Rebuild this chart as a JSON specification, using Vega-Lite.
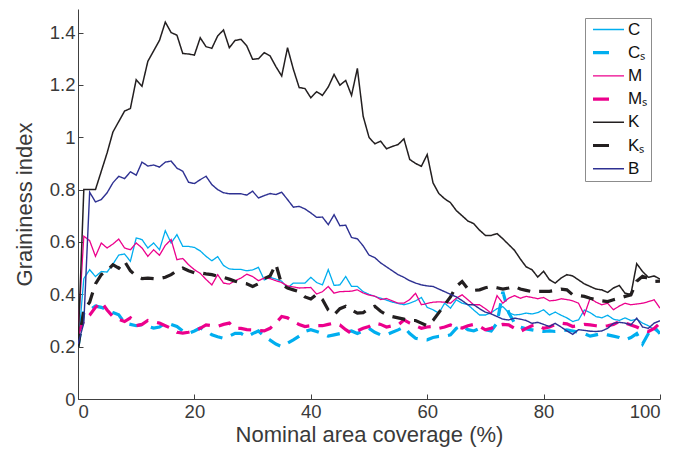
{
  "$schema": "https://vega.github.io/schema/vega-lite/v6.json",
  "width": 582,
  "height": 390,
  "autosize": {"type": "none"},
  "padding": {"left": 78, "top": 9, "right": 30, "bottom": 51},
  "background": "white",
  "config": {
    "view": {"stroke": null},
    "font": "Liberation Sans"
  },
  "data": {"values": [
    {"x":0,"C":0.20,"Cs":0.20,"M":0.25,"Ms":0.25,"K":0.20,"Ks":0.20,"B":0.21},
    {"x":1,"C":0.46,"Cs":0.33,"M":0.622,"Ms":0.30,"K":0.80,"Ks":0.34,"B":0.29},
    {"x":2,"C":0.494,"Cs":0.34,"M":0.605,"Ms":0.32,"K":0.80,"Ks":0.37,"B":0.79},
    {"x":3,"C":0.468,"Cs":0.355,"M":0.545,"Ms":0.35,"K":0.80,"Ks":0.44,"B":0.753},
    {"x":4,"C":0.487,"Cs":0.35,"M":0.596,"Ms":0.37,"K":0.87,"Ks":0.475,"B":0.762},
    {"x":5,"C":0.485,"Cs":0.34,"M":0.577,"Ms":0.34,"K":0.94,"Ks":0.49,"B":0.788},
    {"x":6,"C":0.515,"Cs":0.33,"M":0.592,"Ms":0.315,"K":1.02,"Ks":0.513,"B":0.826},
    {"x":7,"C":0.55,"Cs":0.322,"M":0.611,"Ms":0.305,"K":1.06,"Ks":0.50,"B":0.851},
    {"x":8,"C":0.554,"Cs":0.29,"M":0.577,"Ms":0.296,"K":1.10,"Ks":0.526,"B":0.842},
    {"x":9,"C":0.526,"Cs":0.285,"M":0.57,"Ms":0.31,"K":1.11,"Ks":0.49,"B":0.868},
    {"x":10,"C":0.615,"Cs":0.28,"M":0.596,"Ms":0.28,"K":1.22,"Ks":0.47,"B":0.855},
    {"x":11,"C":0.609,"Cs":0.284,"M":0.577,"Ms":0.285,"K":1.195,"Ks":0.46,"B":0.905},
    {"x":12,"C":0.577,"Cs":0.278,"M":0.545,"Ms":0.30,"K":1.29,"Ks":0.462,"B":0.89},
    {"x":13,"C":0.596,"Cs":0.271,"M":0.57,"Ms":0.295,"K":1.33,"Ks":0.46,"B":0.894},
    {"x":14,"C":0.57,"Cs":0.275,"M":0.549,"Ms":0.29,"K":1.37,"Ks":0.46,"B":0.886},
    {"x":15,"C":0.643,"Cs":0.29,"M":0.587,"Ms":0.28,"K":1.44,"Ks":0.465,"B":0.905},
    {"x":16,"C":0.596,"Cs":0.285,"M":0.609,"Ms":0.27,"K":1.40,"Ks":0.475,"B":0.909},
    {"x":17,"C":0.628,"Cs":0.277,"M":0.532,"Ms":0.255,"K":1.39,"Ks":0.49,"B":0.882},
    {"x":18,"C":0.583,"Cs":0.26,"M":0.537,"Ms":0.252,"K":1.32,"Ks":0.50,"B":0.87},
    {"x":19,"C":0.583,"Cs":0.251,"M":0.513,"Ms":0.255,"K":1.318,"Ks":0.49,"B":0.828},
    {"x":20,"C":0.579,"Cs":0.26,"M":0.494,"Ms":0.26,"K":1.314,"Ks":0.482,"B":0.823},
    {"x":21,"C":0.566,"Cs":0.271,"M":0.48,"Ms":0.27,"K":1.38,"Ks":0.482,"B":0.838},
    {"x":22,"C":0.545,"Cs":0.26,"M":0.457,"Ms":0.283,"K":1.346,"Ks":0.478,"B":0.851},
    {"x":23,"C":0.528,"Cs":0.245,"M":0.436,"Ms":0.28,"K":1.34,"Ks":0.475,"B":0.819},
    {"x":24,"C":0.544,"Cs":0.238,"M":0.475,"Ms":0.277,"K":1.387,"Ks":0.469,"B":0.80},
    {"x":25,"C":0.51,"Cs":0.232,"M":0.443,"Ms":0.285,"K":1.41,"Ks":0.465,"B":0.788},
    {"x":26,"C":0.497,"Cs":0.24,"M":0.439,"Ms":0.29,"K":1.342,"Ks":0.458,"B":0.784},
    {"x":27,"C":0.495,"Cs":0.251,"M":0.452,"Ms":0.27,"K":1.37,"Ks":0.45,"B":0.784},
    {"x":28,"C":0.495,"Cs":0.251,"M":0.462,"Ms":0.27,"K":1.374,"Ks":0.443,"B":0.784},
    {"x":29,"C":0.49,"Cs":0.238,"M":0.477,"Ms":0.265,"K":1.349,"Ks":0.44,"B":0.779},
    {"x":30,"C":0.493,"Cs":0.25,"M":0.468,"Ms":0.264,"K":1.298,"Ks":0.43,"B":0.794},
    {"x":31,"C":0.503,"Cs":0.26,"M":0.452,"Ms":0.262,"K":1.30,"Ks":0.44,"B":0.768},
    {"x":32,"C":0.455,"Cs":0.24,"M":0.462,"Ms":0.26,"K":1.323,"Ks":0.46,"B":0.777},
    {"x":33,"C":0.465,"Cs":0.225,"M":0.46,"Ms":0.27,"K":1.311,"Ks":0.47,"B":0.785},
    {"x":34,"C":0.458,"Cs":0.21,"M":0.452,"Ms":0.29,"K":1.27,"Ks":0.515,"B":0.781},
    {"x":35,"C":0.45,"Cs":0.20,"M":0.445,"Ms":0.315,"K":1.234,"Ks":0.437,"B":0.79},
    {"x":36,"C":0.424,"Cs":0.213,"M":0.432,"Ms":0.31,"K":1.342,"Ks":0.424,"B":0.762},
    {"x":37,"C":0.443,"Cs":0.226,"M":0.428,"Ms":0.296,"K":1.26,"Ks":0.417,"B":0.733},
    {"x":38,"C":0.443,"Cs":0.24,"M":0.424,"Ms":0.285,"K":1.19,"Ks":0.41,"B":0.736},
    {"x":39,"C":0.443,"Cs":0.258,"M":0.425,"Ms":0.277,"K":1.186,"Ks":0.39,"B":0.726},
    {"x":40,"C":0.465,"Cs":0.265,"M":0.426,"Ms":0.28,"K":1.151,"Ks":0.382,"B":0.711},
    {"x":41,"C":0.445,"Cs":0.258,"M":0.401,"Ms":0.28,"K":1.174,"Ks":0.40,"B":0.694},
    {"x":42,"C":0.436,"Cs":0.25,"M":0.41,"Ms":0.28,"K":1.16,"Ks":0.38,"B":0.695},
    {"x":43,"C":0.494,"Cs":0.24,"M":0.43,"Ms":0.285,"K":1.192,"Ks":0.34,"B":0.666},
    {"x":44,"C":0.434,"Cs":0.245,"M":0.404,"Ms":0.29,"K":1.24,"Ks":0.322,"B":0.704},
    {"x":45,"C":0.436,"Cs":0.25,"M":0.41,"Ms":0.283,"K":1.199,"Ks":0.345,"B":0.662},
    {"x":46,"C":0.468,"Cs":0.255,"M":0.411,"Ms":0.265,"K":1.217,"Ks":0.354,"B":0.664},
    {"x":47,"C":0.43,"Cs":0.26,"M":0.412,"Ms":0.25,"K":1.16,"Ks":0.34,"B":0.617},
    {"x":48,"C":0.43,"Cs":0.25,"M":0.417,"Ms":0.26,"K":1.263,"Ks":0.328,"B":0.612},
    {"x":49,"C":0.41,"Cs":0.26,"M":0.405,"Ms":0.27,"K":1.08,"Ks":0.33,"B":0.585},
    {"x":50,"C":0.40,"Cs":0.27,"M":0.397,"Ms":0.277,"K":1.00,"Ks":0.345,"B":0.55},
    {"x":51,"C":0.392,"Cs":0.255,"M":0.393,"Ms":0.29,"K":0.975,"Ks":0.354,"B":0.54},
    {"x":52,"C":0.385,"Cs":0.245,"M":0.38,"Ms":0.285,"K":0.985,"Ks":0.335,"B":0.52},
    {"x":53,"C":0.378,"Cs":0.245,"M":0.384,"Ms":0.275,"K":0.956,"Ks":0.322,"B":0.505},
    {"x":54,"C":0.37,"Cs":0.255,"M":0.375,"Ms":0.28,"K":0.965,"Ks":0.315,"B":0.49},
    {"x":55,"C":0.365,"Cs":0.264,"M":0.366,"Ms":0.283,"K":0.972,"Ks":0.31,"B":0.475},
    {"x":56,"C":0.36,"Cs":0.275,"M":0.366,"Ms":0.302,"K":0.994,"Ks":0.305,"B":0.465},
    {"x":57,"C":0.366,"Cs":0.25,"M":0.38,"Ms":0.29,"K":0.915,"Ks":0.30,"B":0.452},
    {"x":58,"C":0.375,"Cs":0.232,"M":0.404,"Ms":0.28,"K":0.90,"Ks":0.30,"B":0.443},
    {"x":59,"C":0.388,"Cs":0.228,"M":0.36,"Ms":0.27,"K":0.889,"Ks":0.29,"B":0.436},
    {"x":60,"C":0.35,"Cs":0.226,"M":0.365,"Ms":0.275,"K":0.934,"Ks":0.28,"B":0.432},
    {"x":61,"C":0.341,"Cs":0.235,"M":0.37,"Ms":0.277,"K":0.826,"Ks":0.30,"B":0.43},
    {"x":62,"C":0.328,"Cs":0.239,"M":0.371,"Ms":0.27,"K":0.785,"Ks":0.33,"B":0.42},
    {"x":63,"C":0.366,"Cs":0.24,"M":0.37,"Ms":0.275,"K":0.765,"Ks":0.36,"B":0.41},
    {"x":64,"C":0.347,"Cs":0.245,"M":0.366,"Ms":0.283,"K":0.75,"Ks":0.39,"B":0.40},
    {"x":65,"C":0.379,"Cs":0.27,"M":0.385,"Ms":0.275,"K":0.72,"Ks":0.43,"B":0.39},
    {"x":66,"C":0.366,"Cs":0.28,"M":0.398,"Ms":0.271,"K":0.70,"Ks":0.449,"B":0.376},
    {"x":67,"C":0.36,"Cs":0.265,"M":0.379,"Ms":0.28,"K":0.68,"Ks":0.42,"B":0.36},
    {"x":68,"C":0.34,"Cs":0.26,"M":0.36,"Ms":0.285,"K":0.67,"Ks":0.415,"B":0.36},
    {"x":69,"C":0.321,"Cs":0.27,"M":0.36,"Ms":0.277,"K":0.645,"Ks":0.417,"B":0.345},
    {"x":70,"C":0.321,"Cs":0.265,"M":0.345,"Ms":0.264,"K":0.625,"Ks":0.425,"B":0.332},
    {"x":71,"C":0.33,"Cs":0.26,"M":0.328,"Ms":0.27,"K":0.625,"Ks":0.43,"B":0.325},
    {"x":72,"C":0.345,"Cs":0.29,"M":0.395,"Ms":0.28,"K":0.632,"Ks":0.425,"B":0.315},
    {"x":73,"C":0.353,"Cs":0.41,"M":0.366,"Ms":0.285,"K":0.612,"Ks":0.42,"B":0.305},
    {"x":74,"C":0.33,"Cs":0.33,"M":0.385,"Ms":0.283,"K":0.59,"Ks":0.424,"B":0.302},
    {"x":75,"C":0.321,"Cs":0.29,"M":0.395,"Ms":0.27,"K":0.568,"Ks":0.43,"B":0.309},
    {"x":76,"C":0.323,"Cs":0.275,"M":0.385,"Ms":0.258,"K":0.535,"Ks":0.42,"B":0.305},
    {"x":77,"C":0.328,"Cs":0.268,"M":0.392,"Ms":0.27,"K":0.505,"Ks":0.415,"B":0.30},
    {"x":78,"C":0.325,"Cs":0.264,"M":0.388,"Ms":0.28,"K":0.494,"Ks":0.41,"B":0.289},
    {"x":79,"C":0.33,"Cs":0.26,"M":0.383,"Ms":0.283,"K":0.466,"Ks":0.411,"B":0.293},
    {"x":80,"C":0.341,"Cs":0.258,"M":0.388,"Ms":0.27,"K":0.488,"Ks":0.411,"B":0.285},
    {"x":81,"C":0.321,"Cs":0.26,"M":0.375,"Ms":0.275,"K":0.456,"Ks":0.411,"B":0.277},
    {"x":82,"C":0.332,"Cs":0.258,"M":0.377,"Ms":0.285,"K":0.443,"Ks":0.415,"B":0.289},
    {"x":83,"C":0.32,"Cs":0.26,"M":0.383,"Ms":0.29,"K":0.462,"Ks":0.42,"B":0.275},
    {"x":84,"C":0.31,"Cs":0.264,"M":0.38,"Ms":0.287,"K":0.475,"Ks":0.417,"B":0.26},
    {"x":85,"C":0.296,"Cs":0.26,"M":0.375,"Ms":0.277,"K":0.47,"Ks":0.398,"B":0.247},
    {"x":86,"C":0.302,"Cs":0.255,"M":0.366,"Ms":0.28,"K":0.455,"Ks":0.395,"B":0.265},
    {"x":87,"C":0.34,"Cs":0.25,"M":0.321,"Ms":0.285,"K":0.44,"Ks":0.392,"B":0.262},
    {"x":88,"C":0.33,"Cs":0.24,"M":0.385,"Ms":0.283,"K":0.43,"Ks":0.385,"B":0.259},
    {"x":89,"C":0.315,"Cs":0.245,"M":0.37,"Ms":0.28,"K":0.42,"Ks":0.379,"B":0.258},
    {"x":90,"C":0.31,"Cs":0.25,"M":0.36,"Ms":0.277,"K":0.417,"Ks":0.375,"B":0.26},
    {"x":91,"C":0.32,"Cs":0.245,"M":0.366,"Ms":0.28,"K":0.407,"Ks":0.372,"B":0.27},
    {"x":92,"C":0.305,"Cs":0.24,"M":0.341,"Ms":0.285,"K":0.424,"Ks":0.379,"B":0.289},
    {"x":93,"C":0.30,"Cs":0.235,"M":0.355,"Ms":0.296,"K":0.434,"Ks":0.385,"B":0.293},
    {"x":94,"C":0.31,"Cs":0.226,"M":0.366,"Ms":0.29,"K":0.404,"Ks":0.392,"B":0.29},
    {"x":95,"C":0.30,"Cs":0.235,"M":0.36,"Ms":0.283,"K":0.40,"Ks":0.398,"B":0.283},
    {"x":96,"C":0.305,"Cs":0.25,"M":0.363,"Ms":0.275,"K":0.517,"Ks":0.45,"B":0.309},
    {"x":97,"C":0.29,"Cs":0.21,"M":0.366,"Ms":0.264,"K":0.487,"Ks":0.469,"B":0.275},
    {"x":98,"C":0.28,"Cs":0.25,"M":0.372,"Ms":0.258,"K":0.465,"Ks":0.46,"B":0.27},
    {"x":99,"C":0.265,"Cs":0.275,"M":0.379,"Ms":0.27,"K":0.47,"Ks":0.449,"B":0.29},
    {"x":100,"C":0.25,"Cs":0.25,"M":0.347,"Ms":0.29,"K":0.458,"Ks":0.45,"B":0.299}
  ]},
  "transform": [
    {"fold": ["C", "Cs", "M", "Ms", "K", "Ks", "B"], "as": ["series", "value"]}
  ],
  "mark": {"type": "line", "clip": true},
  "encoding": {
    "x": {
      "field": "x", "type": "quantitative",
      "scale": {"domain": [0, 100], "nice": false},
      "axis": {
        "title": "Nominal area coverage (%)",
        "values": [0, 20, 40, 60, 80, 100],
        "grid": false,
        "tickSize": -5,
        "labelPadding": 8,
        "labelFontSize": 18.5,
        "labelColor": "#3a3a3a",
        "titleFontSize": 22,
        "titleFontWeight": "normal",
        "titleColor": "#3a3a3a",
        "titlePadding": 4,
        "domainColor": "#404040",
        "tickColor": "#404040"
      }
    },
    "y": {
      "field": "value", "type": "quantitative",
      "scale": {"domain": [0, 1.49], "nice": false},
      "axis": {
        "title": "Graininess index",
        "values": [0, 0.2, 0.4, 0.6, 0.8, 1, 1.2, 1.4],
        "format": "~g",
        "grid": false,
        "tickSize": -5,
        "labelPadding": 8,
        "labelFontSize": 18.5,
        "labelColor": "#3a3a3a",
        "titleFontSize": 22,
        "titleFontWeight": "normal",
        "titleColor": "#3a3a3a",
        "titlePadding": 13,
        "domainColor": "#404040",
        "tickColor": "#404040"
      }
    },
    "color": {
      "field": "series", "type": "nominal",
      "scale": {
        "domain": ["C", "Cs", "M", "Ms", "K", "Ks", "B"],
        "range": ["#00AEEF", "#00AEEF", "#EC008C", "#EC008C", "#231F20", "#231F20", "#2E3192"]
      },
      "legend": {
        "title": null,
        "orient": "top-right",
        "offset": 9,
        "labelExpr": "replace(datum.label, 's', 'ₛ')",
        "labelFontSize": 17,
        "labelColor": "#111111",
        "labelOffset": 2,
        "symbolType": "stroke",
        "symbolSize": 961,
        "symbolOffset": 3,
        "clipHeight": 17,
        "rowPadding": 5.2,
        "padding": 3,
        "strokeColor": "#8c8c8c",
        "fillColor": "white",
        "cornerRadius": 0,
        "encode": {
          "symbols": {
            "update": {
              "strokeDash": {"signal": "indexof(datum.value, 's') >= 0 ? [16, 40] : [100, 0]"}
            }
          }
        }
      }
    },
    "strokeDash": {
      "condition": {"test": "indexof(datum.series, 's') >= 0", "value": [13, 9]},
      "value": [1, 0]
    },
    "strokeWidth": {
      "field": "series", "type": "nominal",
      "scale": {
        "type": "ordinal",
        "domain": ["C", "Cs", "M", "Ms", "K", "Ks", "B"],
        "range": [1.3, 3.2, 1.3, 3.2, 1.5, 3.2, 1.4]
      },
      "legend": null
    },
    "order": {"field": "x", "type": "quantitative"}
  }
}
